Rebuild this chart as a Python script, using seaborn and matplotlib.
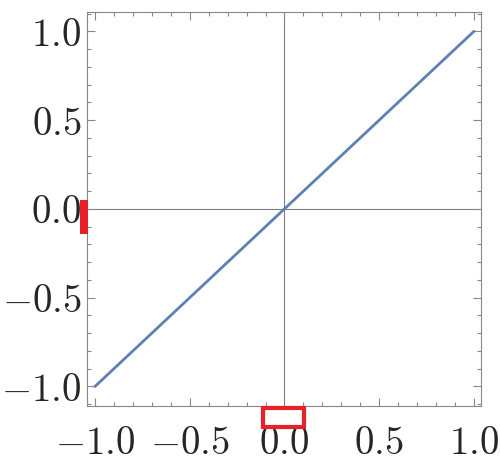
import matplotlib
matplotlib.use("Agg")
import matplotlib.pyplot as plt
import seaborn as sns
import pandas as pd
import numpy as np
from matplotlib.patches import Rectangle
from matplotlib.ticker import MultipleLocator, FuncFormatter

x_vals = [-1.0, 1.0]
y_vals = [-1.0, 1.0]
major_ticks = [-1.0, -0.5, 0.0, 0.5, 1.0]

sns.set_theme(style="white")
plt.rcParams["mathtext.fontset"] = "cm"
plt.rcParams["font.family"] = ["DejaVu Serif"]

fig = plt.figure(figsize=(5.0, 4.71), dpi=100)
ax = fig.add_axes([0.174, 0.138, 0.788, 0.837])

df = pd.DataFrame({"x": x_vals, "y": y_vals})
sns.lineplot(data=df, x="x", y="y", ax=ax, color="#5E81B5", linewidth=2.0)

ax.axhline(0, color="#808080", linewidth=0.8, zorder=0)
ax.axvline(0, color="#808080", linewidth=0.8, zorder=0)

ax.set_xlim(-1.042, 1.037)
ax.set_ylim(-1.11, 1.11)
ax.set_xticks(major_ticks)
ax.set_yticks(major_ticks)
ax.xaxis.set_minor_locator(MultipleLocator(0.1))
ax.yaxis.set_minor_locator(MultipleLocator(0.1))

def fmt(v, pos):
    s = f"{abs(v):.1f}"
    return f"$-{s}$" if v < -1e-9 else f"${s}$"

ax.xaxis.set_major_formatter(FuncFormatter(fmt))
ax.yaxis.set_major_formatter(FuncFormatter(fmt))
ax.set_xlabel("")
ax.set_ylabel("")

for sp in ax.spines.values():
    sp.set_color("#888888")
    sp.set_linewidth(0.8)

ax.tick_params(which="both", direction="in", top=True, right=True, bottom=True, left=True,
               color="#888888", width=0.8)
ax.tick_params(which="major", length=6, labelsize=28)
ax.tick_params(which="minor", length=3)
ax.tick_params(axis="x", which="major", pad=14)
ax.tick_params(axis="y", which="major", pad=4)

ax.add_patch(Rectangle((-0.018, 0.437), 0.02, 0.086, transform=ax.transAxes,
                       facecolor="#E8202A", edgecolor="none", clip_on=False, zorder=5))
ax.add_patch(Rectangle((0.447, -0.053), 0.104, 0.048, transform=ax.transAxes,
                       facecolor="none", edgecolor="#E8202A", linewidth=3, clip_on=False, zorder=5))

fig.savefig("out.png", dpi=100)
